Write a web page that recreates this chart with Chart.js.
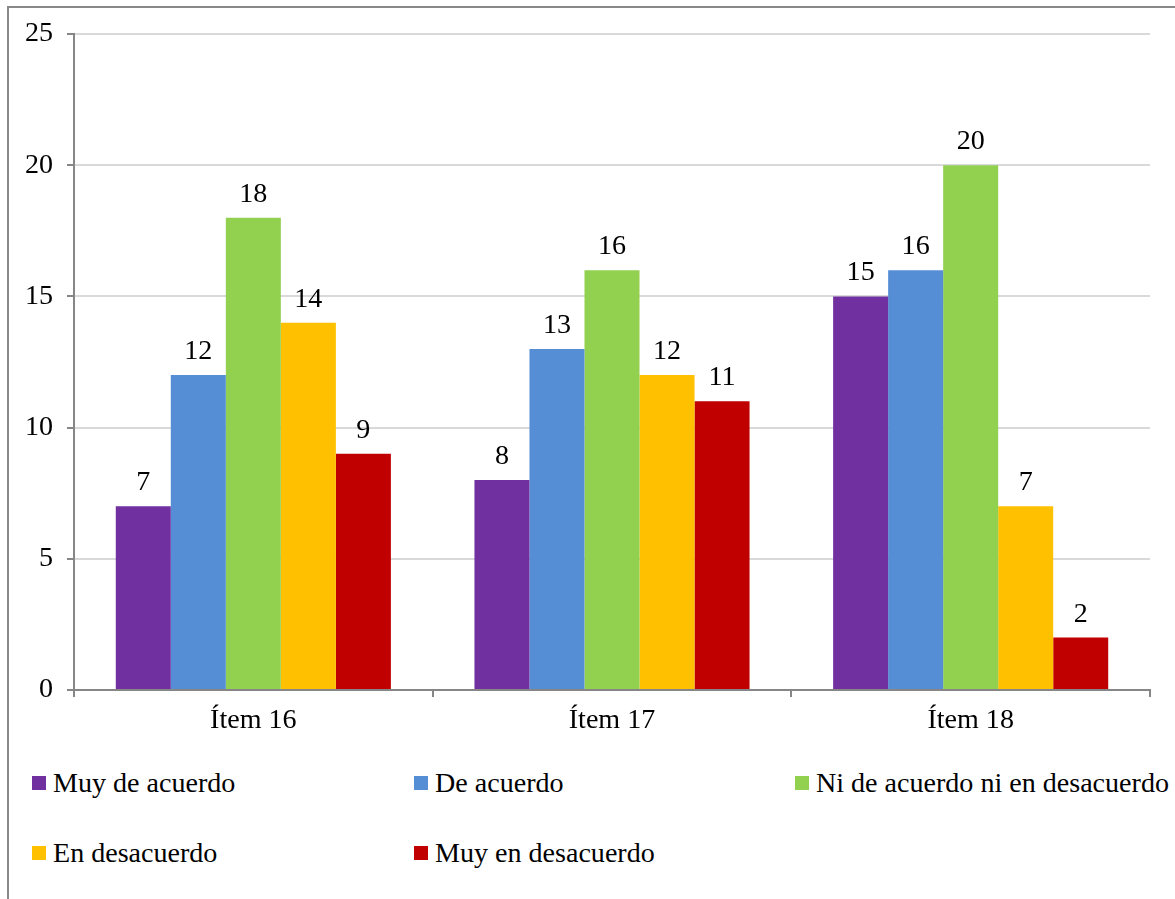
<!DOCTYPE html>
<html>
<head>
<meta charset="utf-8">
<script src="https://cdn.jsdelivr.net/npm/chart.js@4/dist/chart.umd.min.js"></script>
<style>
  html, body { margin: 0; padding: 0; background: #fff; overflow: hidden; }
  body { width: 1175px; height: 899px; position: relative; }
  #frame { position: absolute; left: 7px; top: 6px; width: 1300px; height: 1000px;
           border-top: 2px solid #898989; border-left: 2px solid #898989; }
  #wrap { position: absolute; left: 0; top: 0; width: 1175px; height: 740px; }
  #legend { position: absolute; left: 32px; top: 765px; width: 1150px;
            display: grid; grid-template-columns: 382px 381px 400px; row-gap: 34px; color: #000; }
  .item { display: flex; align-items: center; white-space: nowrap; height: 36px; }
  .box { width: 14px; height: 14px; margin-right: 7px; display: inline-block; flex: none; }
</style>
</head>
<body>
<div id="frame"></div>
<div id="wrap"><canvas id="chart"></canvas></div>
<div id="legend"></div>
<script>
const categories = ['Ítem 16', 'Ítem 17', 'Ítem 18'];
const seriesNames = ['Muy de acuerdo', 'De acuerdo', 'Ni de acuerdo ni en desacuerdo', 'En desacuerdo', 'Muy en desacuerdo'];
const muyDeAcuerdo = [7, 8, 15];
const deAcuerdo = [12, 13, 16];
const niNi = [18, 16, 20];
const enDesacuerdo = [14, 12, 7];
const muyEnDesacuerdo = [9, 11, 2];
const seriesColors = ['#7030A0', '#558ED5', '#92D050', '#FFC000', '#C00000'];
const yTicks = [0, 5, 10, 15, 20, 25];

const FONT = "'Liberation Serif', Tinos, 'Times New Roman', 'DejaVu Serif', serif";
const values = [muyDeAcuerdo, deAcuerdo, niNi, enDesacuerdo, muyEnDesacuerdo];

// tamaño de letra: que "Muy de acuerdo" mida ~181px como en la imagen
function fitFontSize() {
    const c = document.createElement('canvas').getContext('2d');
    c.font = '100px ' + FONT;
    const m = c.measureText('Muy de acuerdo');
    const w = (m.actualBoundingBoxLeft || 0) + (m.actualBoundingBoxRight || m.width);
    const size = 181 / w * 100;
    return Math.max(22, Math.min(30, size));
}
const FS = fitFontSize();
Chart.defaults.font.family = FONT;

// etiquetas de valor encima de cada barra
const valueLabels = {
    id: 'valueLabels',
    afterDatasetsDraw(chart) {
        const ctx = chart.ctx;
        ctx.save();
        ctx.font = FS + 'px ' + FONT;
        ctx.fillStyle = '#000';
        ctx.textAlign = 'center';
        ctx.textBaseline = 'alphabetic';
        chart.data.datasets.forEach((ds, i) => {
            chart.getDatasetMeta(i).data.forEach((bar, j) => {
                ctx.fillText(ds.data[j], bar.x, bar.y - 16);
            });
        });
        ctx.restore();
    }
};

const chart = new Chart(document.getElementById('chart'), {
    type: 'bar',
    data: {
        labels: categories,
        datasets: seriesNames.map((name, i) => ({
            label: name,
            data: values[i],
            backgroundColor: seriesColors[i],
            borderWidth: 0,
            barPercentage: 1,
            categoryPercentage: 0.767
        }))
    },
    options: {
        responsive: true,
        maintainAspectRatio: false,
        animation: false,
        layout: { padding: { top: 34, right: 25, left: 0, bottom: 0 } },
        plugins: { legend: { display: false }, tooltip: { enabled: false } },
        scales: {
            x: {
                grid: { offset: true, drawOnChartArea: false, drawTicks: true, tickLength: 7, color: '#868686', lineWidth: 2 },
                border: { color: '#868686', width: 2 },
                ticks: { color: '#000', font: { family: FONT, size: FS }, padding: 7 },
                afterFit(scale) { scale.height = 50; }
            },
            y: {
                min: 0,
                max: 25,
                afterBuildTicks(scale) { scale.ticks = yTicks.map(v => ({ value: v })); },
                grid: { color: '#D9D9D9', lineWidth: 2, tickLength: 7, tickColor: '#868686' },
                border: { color: '#868686', width: 2 },
                ticks: { color: '#000', font: { family: FONT, size: FS }, padding: 14 },
                afterFit(scale) { scale.width = 74; }
            }
        }
    },
    plugins: [valueLabels]
});

const legendDiv = document.getElementById('legend');
legendDiv.style.fontFamily = FONT;
legendDiv.style.fontSize = FS + 'px';
chart.data.datasets.forEach(ds => {
    const el = document.createElement('div');
    el.className = 'item';
    el.innerHTML = '<span class="box" style="background:' + ds.backgroundColor + '"></span>' + ds.label;
    legendDiv.appendChild(el);
});
</script>
</body>
</html>
